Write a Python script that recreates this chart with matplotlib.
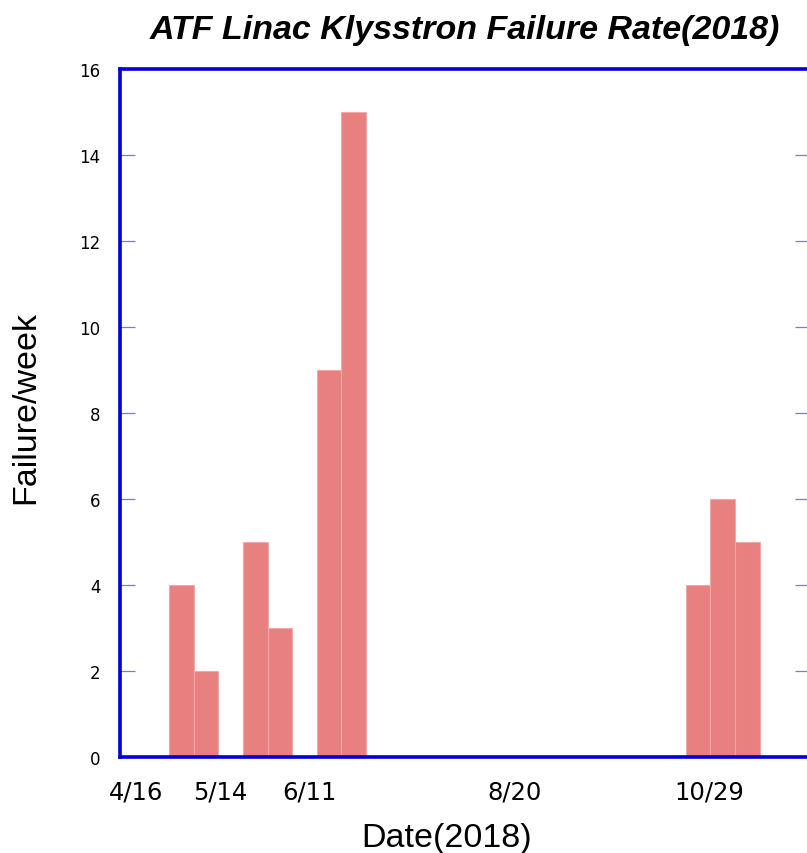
import matplotlib
matplotlib.use("Agg")
import matplotlib.pyplot as plt
from matplotlib.ticker import FixedLocator

# Data (x = week slot index, bars one slot wide)
week_slots = [2, 3, 5, 6, 8, 9, 23, 24, 25]
failures = [4, 2, 5, 3, 9, 15, 4, 6, 5]
date_labels = ["4/16", "5/14", "6/11", "8/20", "10/29"]
date_label_pos = [0.65, 4.07, 7.72, 16.05, 23.94]
tick_mark_pos = [16.05]
y_ticks = [0, 2, 4, 6, 8, 10, 12, 14, 16]

plt.rcParams['font.family'] = ['Liberation Sans', 'DejaVu Sans']

fig = plt.figure(figsize=(8.07, 8.54), dpi=100)
ax = fig.add_axes([120/807, 96/854, 690/807, 688/854])

ax.bar(week_slots, failures, width=1.0, align='edge',
       color='#E88080', edgecolor='#F2A8A8', linewidth=0.8, zorder=2)

ax.set_xlim(0, 28.05)
ax.set_ylim(0, 16)

for s in ax.spines.values():
    s.set_color('#0000D8')
    s.set_linewidth(2.6)

ax.set_yticks(y_ticks)
ax.set_yticklabels([str(v) for v in y_ticks], fontsize=12, family='DejaVu Sans')
ax.tick_params(axis='y', direction='in', length=11, width=0.9, color='#7878E0',
               left=True, right=True, pad=14)

ax.set_xticks(date_label_pos)
ax.set_xticklabels(date_labels, fontsize=17.5, family='DejaVu Sans')
ax.tick_params(axis='x', which='major', length=0, pad=16)
ax.xaxis.set_minor_locator(FixedLocator(tick_mark_pos))
ax.tick_params(axis='x', which='minor', direction='in', length=10, width=0.9,
               color='#7878E0', top=True, bottom=True)

ax.set_xlabel("Date(2018)", fontsize=24.5)
ax.xaxis.set_label_coords(0.474, -0.094)
ax.set_ylabel("Failure/week", fontsize=24.5)
ax.yaxis.set_label_coords(-0.114, 0.51)
ax.set_title("ATF Linac Klysstron Failure Rate(2018)", fontsize=24.5,
             fontweight='bold', fontstyle='italic', pad=22)

fig.savefig("out.png", dpi=100)
